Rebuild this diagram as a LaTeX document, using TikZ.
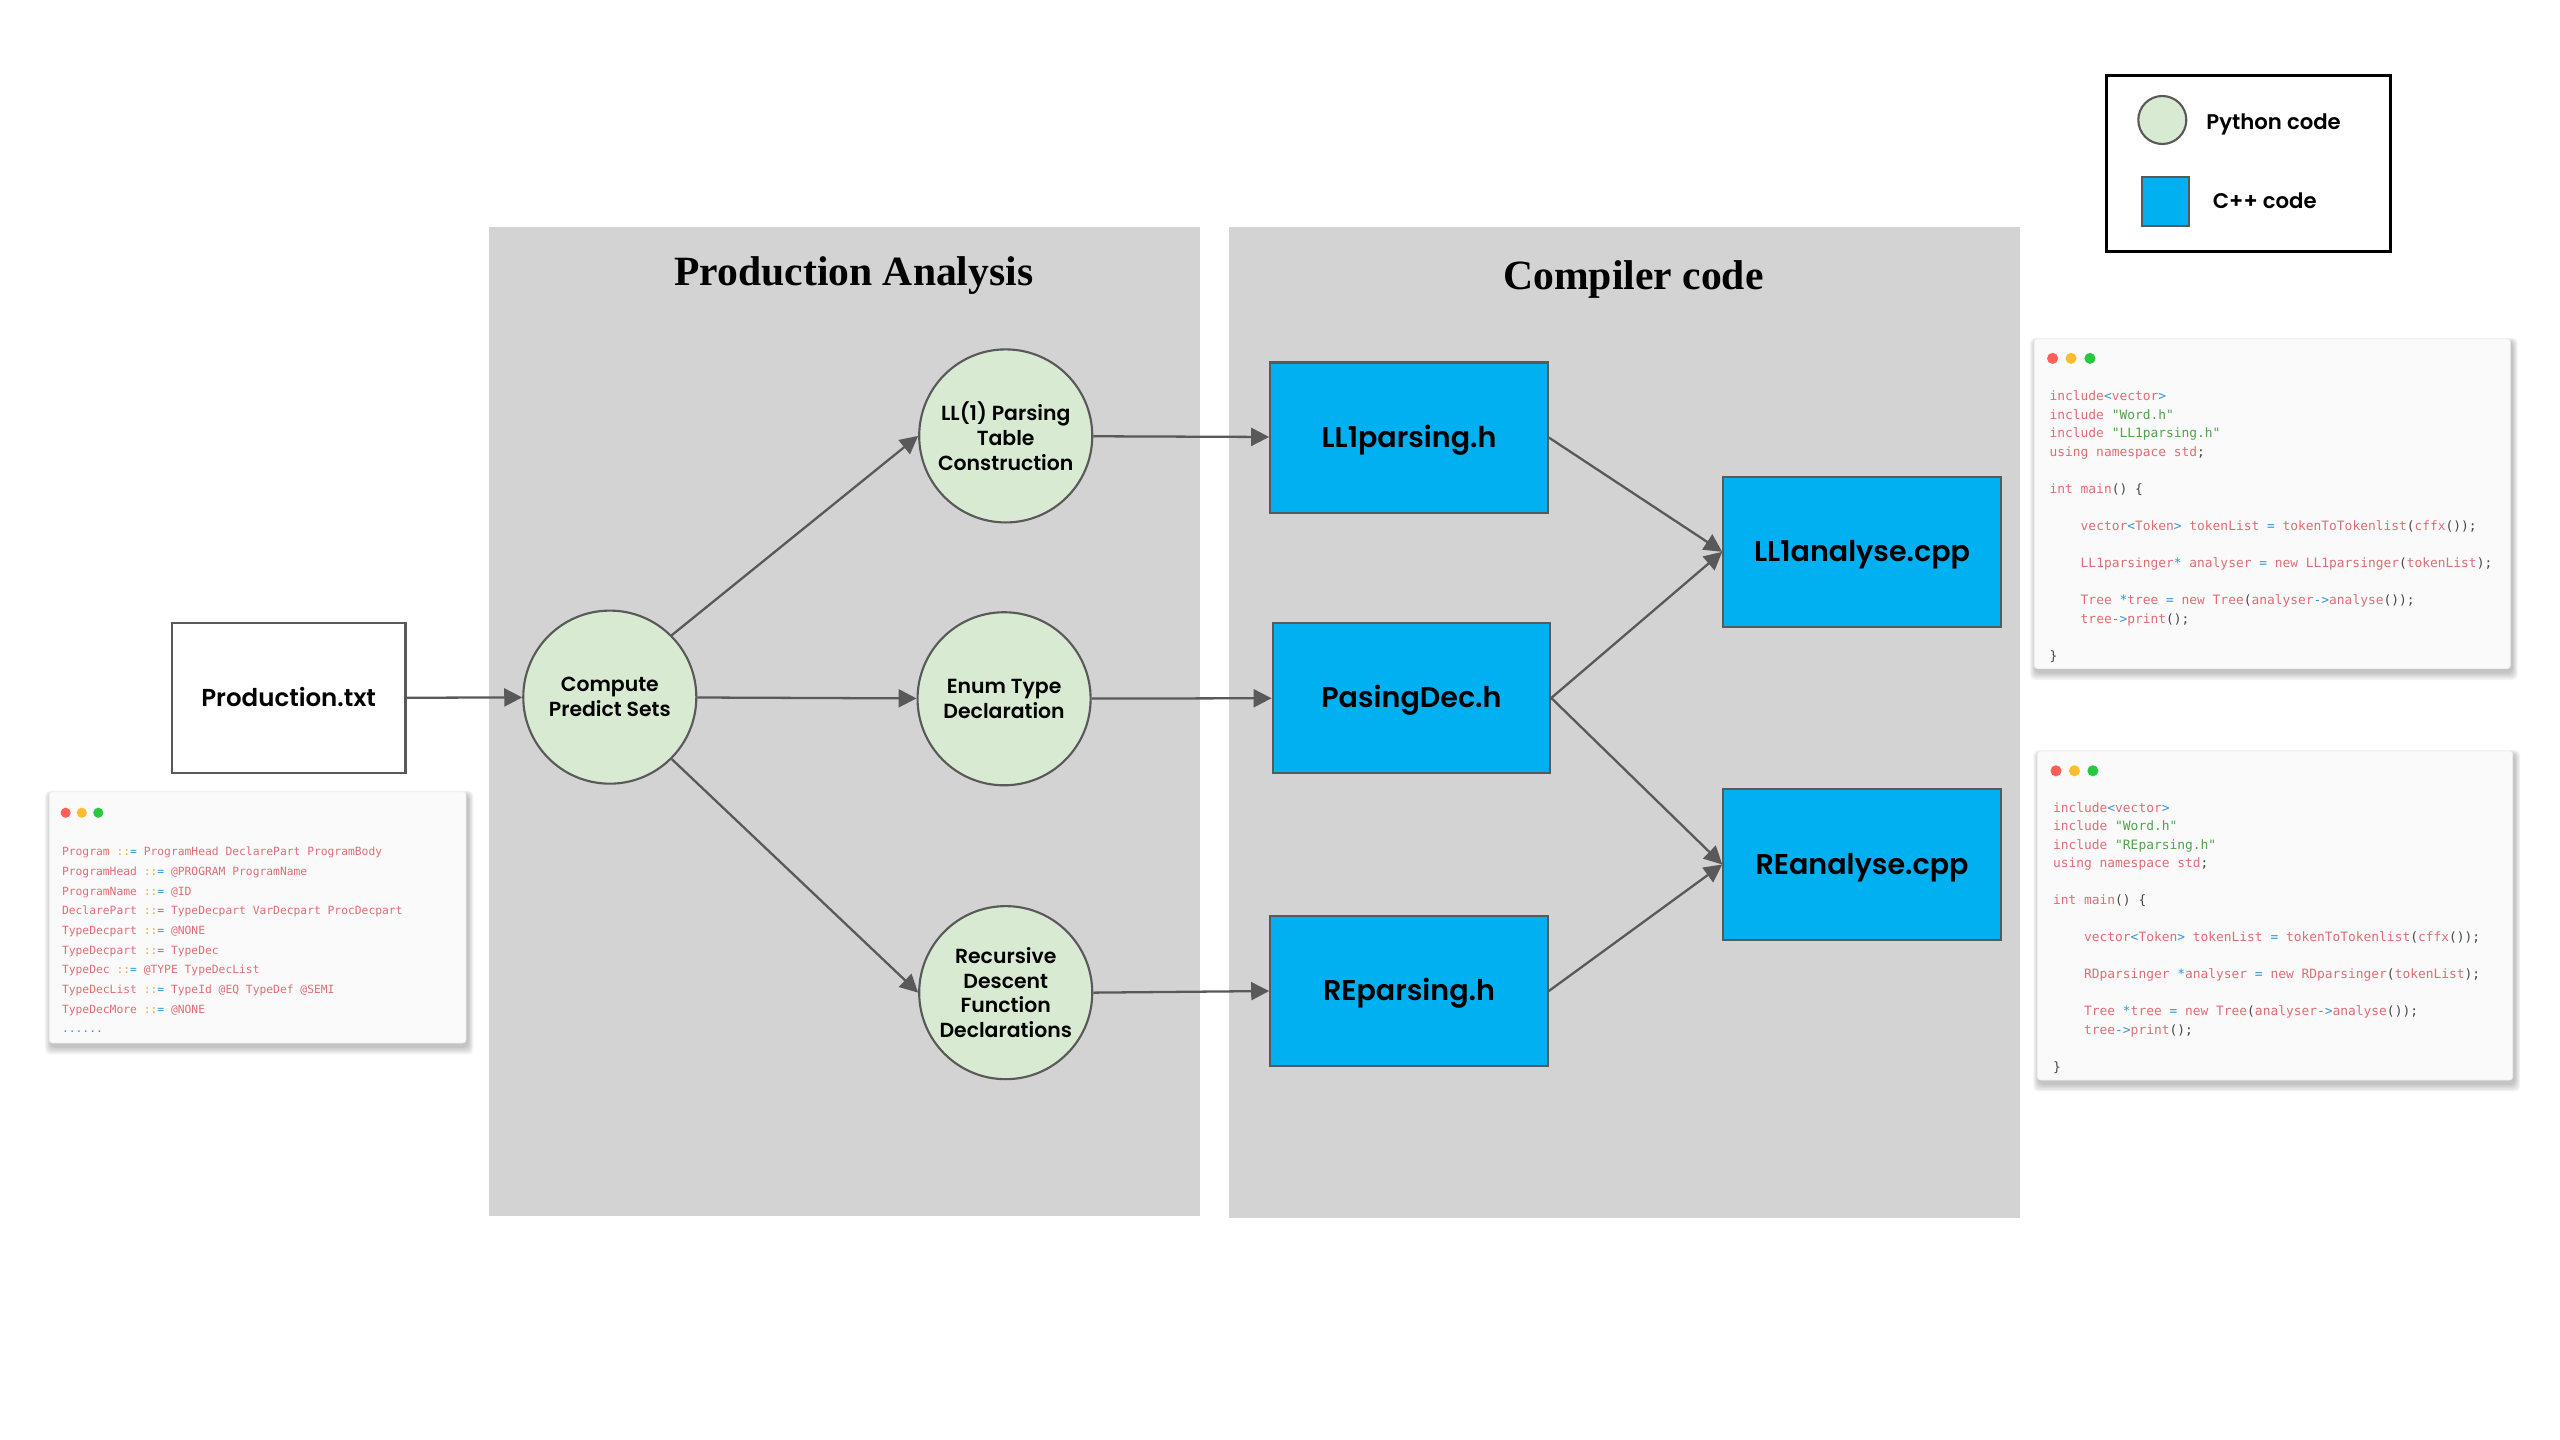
\documentclass[tikz,border=0pt]{standalone}
\usepackage{fontspec}
\setmainfont{Poppins}[BoldFont={Poppins SemiBold}]
\setmonofont{DejaVu Sans Mono}
\newfontfamily\titlefont{Liberation Serif}
\usetikzlibrary{arrows.meta}

\definecolor{panelgray}{RGB}{211,211,211}
\definecolor{pygreen}{RGB}{217,234,211}
\definecolor{cppblue}{RGB}{0,176,240}
\definecolor{edgegray}{RGB}{89,89,89}
\definecolor{codebg}{RGB}{250,250,250}
\definecolor{codered}{RGB}{224,108,117}
\definecolor{codegreen}{RGB}{80,161,79}
\definecolor{codeblue}{RGB}{46,150,214}
\definecolor{codeorange}{RGB}{229,168,75}
\definecolor{codedark}{RGB}{68,68,68}
\definecolor{dotred}{RGB}{255,95,87}
\definecolor{dotyellow}{RGB}{254,188,46}
\definecolor{dotgreen}{RGB}{40,200,64}

\newcommand{\kwr}[1]{\textcolor{codered}{#1}}
\newcommand{\kwb}[1]{\textcolor{codeblue}{#1}}
\newcommand{\kwg}[1]{\textcolor{codegreen}{#1}}
\newcommand{\kwo}[1]{\textcolor{codeorange}{#1}}
\newcommand{\kwd}[1]{\textcolor{codedark}{#1}}
\newcommand{\gramrule}[2]{\kwr{#1} \kwo{::}\kwb{=} \kwr{#2}}

\tikzset{
	pybub/.style={circle, draw=edgegray, line width=1.3pt, fill=pygreen, minimum size=106pt, inner sep=0pt, align=center, font=\fontsize{12.5}{15.2}\selectfont\bfseries},
	cppbox/.style={rectangle, draw=edgegray, line width=1.3pt, fill=cppblue, minimum width=170pt, minimum height=92pt, inner sep=0pt, font=\fontsize{17.5}{20}\selectfont\bfseries, text height=12.2pt, text depth=0pt},
	srcbox/.style={rectangle, draw=edgegray, line width=1.5pt, fill=white, minimum width=143pt, minimum height=92pt, inner sep=0pt, font=\fontsize{15}{18}\selectfont\bfseries, text height=10.4pt, text depth=0pt},
	paneltitle/.style={anchor=base, inner sep=0pt, font=\titlefont\bfseries\fontsize{25.5}{28}\selectfont},
	legtext/.style={anchor=west, inner sep=0pt, font=\fontsize{13}{15}\selectfont\bfseries, text height=9.1pt, text depth=0pt},
	flow/.style={draw=edgegray, line width=1.4pt, -{Triangle[length=11pt,width=11pt]}},
	gramline/.style={anchor=base west, inner sep=0pt, font=\ttfamily\fontsize{6.93}{8}\selectfont},
	codeline/.style={anchor=base west, inner sep=0pt, font=\ttfamily\fontsize{7.9}{9}\selectfont}
}

\begin{document}
\begin{tikzpicture}[x=1pt,y=1pt,yscale=-1]
	\useasboundingbox (0,0) rectangle (1568,882);

	%Shape: Panels
	\fill[panelgray] (299.5,139) rectangle (735,745);
	\fill[panelgray] (753,139) rectangle (1237,746);
	% Text Node
	\node[paneltitle] (patitle) at (523,175) {Production Analysis};
	% Text Node
	\node[paneltitle] (cctitle) at (1000.5,177.6) {Compiler code};

	% Nodes
	\node[srcbox] (prod) at (176.8,427.6) {Production.txt};
	\node[pybub] (predict) at (373.5,427) {Compute\\Predict Sets};
	\node[pybub] (table) at (616,267) {LL(1) Parsing\\Table\\Construction};
	\node[pybub] (enum) at (615,428) {Enum Type\\Declaration};
	\node[pybub] (rdfun) at (616,608) {Recursive\\Descent\\Function\\Declarations};
	\node[cppbox] (llparse) at (863,268) {LL1parsing.h};
	\node[cppbox] (decl) at (864.5,427.5) {PasingDec.h};
	\node[cppbox] (reparse) at (863,607) {REparsing.h};
	\node[cppbox] (llmain) at (1140.5,338) {LL1analyse.cpp};
	\node[cppbox] (remain) at (1140.5,529.5) {REanalyse.cpp};

	%Straight Lines
	\draw[flow] (prod) -- (predict);
	\draw[flow] (predict.45) -- (table.west);
	\draw[flow] (predict) -- (enum);
	\draw[flow] (predict.-45) -- (rdfun.west);
	\draw[flow] (table) -- (llparse);
	\draw[flow] (enum) -- (decl);
	\draw[flow] (rdfun.east) -- (reparse.west);
	\draw[flow] (llparse.east) -- (llmain.west);
	\draw[flow] (decl.east) -- (llmain.west);
	\draw[flow] (decl.east) -- (remain.west);
	\draw[flow] (reparse.east) -- (remain.west);

	%Shape: Legend
	\draw[line width=1.6pt] (1290.3,46.4) rectangle (1464.3,154.2);
	\node[pybub, minimum size=29.4pt] (legpy) at (1324.4,73.5) {};
	\node[legtext] (legpylabel) at (1351.2,74.5) {Python code};
	\node[cppbox, minimum width=29pt, minimum height=30pt] (legcpp) at (1326.2,123.2) {};
	\node[legtext] (legcpplabel) at (1355.2,123.1) {C++ code};

	%Shape: Grammar Window
	\foreach \s in {1,...,5}
		\fill[black, opacity=0.05, rounded corners=3pt] (30.2-\s*0.7+1,484.9-\s*0.5+2) rectangle (285.4+\s*0.7+1,638.8+\s+2);
	\fill[codebg, draw=black!6, line width=0.5pt, rounded corners=2pt] (30.2,484.9) rectangle (285.4,638.8);
	\fill[dotred] (40.2,497.8) circle (3.1);
	\fill[dotyellow] (50.1,497.8) circle (3.1);
	\fill[dotgreen] (60.2,497.8) circle (3.1);
	\foreach \t [count=\i] in {
		{\gramrule{Program}{ProgramHead DeclarePart ProgramBody}},
		{\gramrule{ProgramHead}{@PROGRAM ProgramName}},
		{\gramrule{ProgramName}{@ID}},
		{\gramrule{DeclarePart}{TypeDecpart VarDecpart ProcDecpart}},
		{\gramrule{TypeDecpart}{@NONE}},
		{\gramrule{TypeDecpart}{TypeDec}},
		{\gramrule{TypeDec}{@TYPE TypeDecList}},
		{\gramrule{TypeDecList}{TypeId @EQ TypeDef @SEMI}},
		{\gramrule{TypeDecMore}{@NONE}},
		{\kwb{......}}}
		\node[gramline] (gram\i) at (37.8,524.1+12.05*\i-12.05) {\t};

	%Shape: LL1 Code Window
	\foreach \s in {1,...,5}
		\fill[black, opacity=0.05, rounded corners=3pt] (1246-\s*0.7+1,207.5-\s*0.5+2) rectangle (1537.5+\s*0.7+1,409.5+\s+2);
	\fill[codebg, draw=black!6, line width=0.5pt, rounded corners=2pt] (1246,207.5) rectangle (1537.5,409.5);
	\fill[dotred] (1257.2,219.5) circle (3.4);
	\fill[dotyellow] (1268.5,219.5) circle (3.4);
	\fill[dotgreen] (1280.1,219.5) circle (3.4);
	\foreach \n/\t in {
		0/{\kwr{include}\kwb{<}\kwr{vector}\kwb{>}},
		1/{\kwr{include} \kwg{"Word.h"}},
		2/{\kwr{include} \kwg{"LL1parsing.h"}},
		3/{\kwr{using namespace std}\kwd{;}},
		5/{\kwr{int main}\kwd{() \{}},
		7/{\phantom{xxxx}\kwr{vector}\kwb{<}\kwr{Token}\kwb{>} \kwr{tokenList} \kwb{=} \kwr{tokenToTokenlist}\kwd{(}\kwr{cffx}\kwd{());}},
		9/{\phantom{xxxx}\kwr{LL1parsinger}\kwb{*} \kwr{analyser} \kwb{=} \kwr{new LL1parsinger}\kwd{(}\kwr{tokenList}\kwd{);}},
		11/{\phantom{xxxx}\kwr{Tree} \kwb{*}\kwr{tree} \kwb{=} \kwr{new Tree}\kwd{(}\kwr{analyser}\kwb{->}\kwr{analyse}\kwd{());}},
		12/{\phantom{xxxx}\kwr{tree}\kwb{->}\kwr{print}\kwd{();}},
		14/{\kwd{\}}}}
		\node[codeline] (llcode\n) at (1255.2,245.4+11.36*\n) {\t};

	%Shape: RE Code Window
	\foreach \s in {1,...,5}
		\fill[black, opacity=0.05, rounded corners=3pt] (1248-\s*0.7+1,460-\s*0.5+2) rectangle (1539+\s*0.7+1,661.5+\s+2);
	\fill[codebg, draw=black!6, line width=0.5pt, rounded corners=2pt] (1248,460) rectangle (1539,661.5);
	\fill[dotred] (1259.3,472.1) circle (3.4);
	\fill[dotyellow] (1270.6,472.1) circle (3.4);
	\fill[dotgreen] (1281.9,472.1) circle (3.4);
	\foreach \n/\t in {
		0/{\kwr{include}\kwb{<}\kwr{vector}\kwb{>}},
		1/{\kwr{include} \kwg{"Word.h"}},
		2/{\kwr{include} \kwg{"REparsing.h"}},
		3/{\kwr{using namespace std}\kwd{;}},
		5/{\kwr{int main}\kwd{() \{}},
		7/{\phantom{xxxx}\kwr{vector}\kwb{<}\kwr{Token}\kwb{>} \kwr{tokenList} \kwb{=} \kwr{tokenToTokenlist}\kwd{(}\kwr{cffx}\kwd{());}},
		9/{\phantom{xxxx}\kwr{RDparsinger} \kwb{*}\kwr{analyser} \kwb{=} \kwr{new RDparsinger}\kwd{(}\kwr{tokenList}\kwd{);}},
		11/{\phantom{xxxx}\kwr{Tree} \kwb{*}\kwr{tree} \kwb{=} \kwr{new Tree}\kwd{(}\kwr{analyser}\kwb{->}\kwr{analyse}\kwd{());}},
		12/{\phantom{xxxx}\kwr{tree}\kwb{->}\kwr{print}\kwd{();}},
		14/{\kwd{\}}}}
		\node[codeline] (recode\n) at (1257.3,497.6+11.32*\n) {\t};
\end{tikzpicture}
\end{document}
